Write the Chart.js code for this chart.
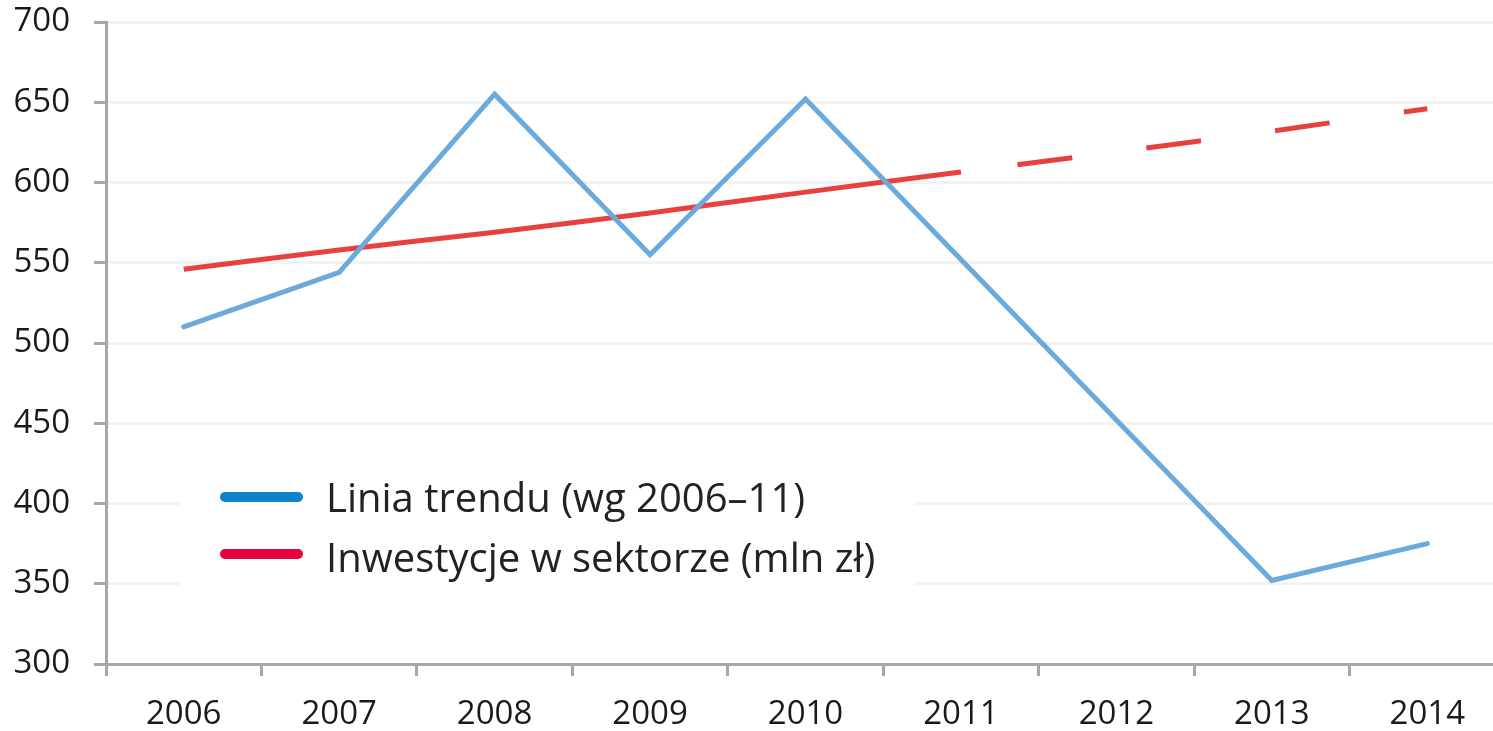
<!DOCTYPE html>
<html lang="pl">
<head>
<meta charset="UTF-8">
<title>Inwestycje w sektorze</title>
<script src="https://cdn.jsdelivr.net/npm/chart.js"></script>
<style>
  html, body { margin: 0; padding: 0; background: #fff; overflow: hidden; }
  /* the original chart is cropped a little on the right, so the canvas is wider than the window */
  #wrap { width: 1506px; height: 731px; position: relative; }
</style>
</head>
<body>
<div id="wrap"><canvas id="chart"></canvas></div>
<script>
// data
const years = ['2006', '2007', '2008', '2009', '2010', '2011', '2012', '2013', '2014'];
const trendValues = [510, 544, 655, 555, 652, 552, 452, 352, 375];
const investValues = [546, 558, 569, 581, 594, 606.5, 619, 632, 646];
const legendLabels = ['Linia trendu (wg 2006–11)', 'Inwestycje w sektorze (mln zł)'];
const legendColors = ['#0b84c9', '#e8023d'];
const yMin = 300, yMax = 700, yStep = 50;
const dashedFrom = 5; // red line is dashed after 2011

const axisGray = '#a6a6a6';

// legend sits inside the plot, on a white box that hides the grid lines
const insideLegend = {
  id: 'insideLegend',
  beforeDatasetsDraw(chart) {
    const { ctx, chartArea } = chart;
    const l = chartArea.left, t = chartArea.top;
    ctx.save();
    ctx.fillStyle = '#fff';
    ctx.fillRect(l + 74, t + 446, 735, 126);
    ctx.lineCap = 'round';
    ctx.lineWidth = 10;
    ctx.font = "40px 'Open Sans', sans-serif";
    ctx.textBaseline = 'alphabetic';
    const rows = [{ sy: t + 475, ty: t + 490 }, { sy: t + 532, ty: t + 550 }];
    rows.forEach((r, i) => {
      ctx.strokeStyle = legendColors[i];
      ctx.beginPath();
      ctx.moveTo(l + 119, r.sy);
      ctx.lineTo(l + 192, r.sy);
      ctx.stroke();
      ctx.fillStyle = '#222';
      ctx.fillText(legendLabels[i], l + 220, r.ty);
    });
    ctx.restore();
  }
};

Chart.defaults.font.family = "'Open Sans', sans-serif";
Chart.defaults.font.size = 33;
Chart.defaults.color = '#1a1a1a';

new Chart(document.getElementById('chart'), {
  type: 'line',
  data: {
    labels: years,
    datasets: [
      {
        label: legendLabels[0],
        data: trendValues,
        borderColor: '#6caadc',
        borderWidth: 5,
        borderJoinStyle: 'miter',
        borderCapStyle: 'round',
        pointRadius: 0,
        tension: 0
      },
      {
        label: legendLabels[1],
        data: investValues,
        borderColor: '#e8403f',
        borderWidth: 5,
        borderCapStyle: 'butt',
        pointRadius: 0,
        tension: 0.2,
        segment: {
          borderDash: ctx => ctx.p0DataIndex >= dashedFrom ? [55, 75] : undefined,
          borderDashOffset: ctx => ctx.p0DataIndex >= dashedFrom ? 73 : undefined
        }
      }
    ]
  },
  options: {
    responsive: true,
    maintainAspectRatio: false,
    animation: false,
    layout: { padding: { top: 22, left: 13, right: 1, bottom: 0 } },
    plugins: {
      legend: { display: false },
      tooltip: { enabled: false }
    },
    scales: {
      x: {
        offset: true,
        grid: {
          offset: true,
          drawOnChartArea: false,
          tickColor: axisGray,
          tickWidth: 3,
          tickLength: 12
        },
        border: { color: axisGray, width: 3 },
        ticks: { padding: 22, font: { size: 33, lineHeight: 1 } },
        afterFit(s) { s.height = 67; s.paddingLeft = 0; s.paddingRight = 0; }
      },
      y: {
        min: yMin,
        max: yMax,
        grid: {
          color: '#f2f2f2',
          lineWidth: 3,
          tickColor: axisGray,
          tickWidth: 3,
          tickLength: 12
        },
        border: { color: axisGray, width: 3 },
        ticks: { stepSize: yStep, padding: 24, font: { size: 33, lineHeight: 1.2 } },
        afterFit(s) { s.width = 93; s.paddingTop = 0; s.paddingBottom = 0; }
      }
    }
  },
  plugins: [insideLegend]
});
</script>
</body>
</html>
